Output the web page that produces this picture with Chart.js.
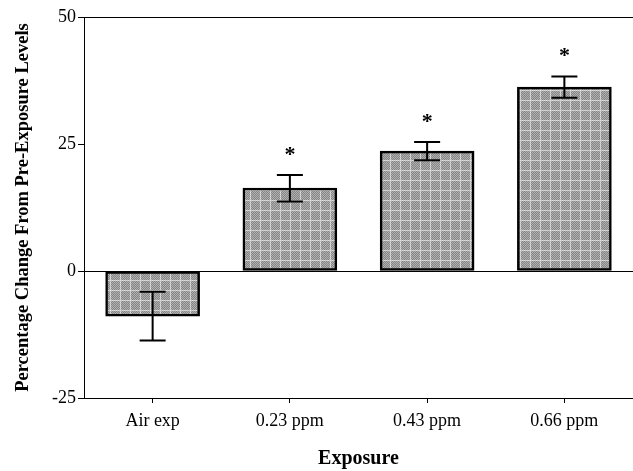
<!DOCTYPE html>
<html lang="en">
<head>
    <meta charset="UTF-8">
    <title>Percentage Change From Pre-Exposure Levels</title>
    <script src="https://cdn.jsdelivr.net/npm/chart.js"></script>
    <style>
        html, body {
            margin: 0;
            padding: 0;
            background: #fff;
        }
        #wrap {
            width: 633px;
            height: 471px;
        }
    </style>
</head>
<body>
    <div id="wrap"><canvas id="exposureChart"></canvas></div>

    <script>
        // data
        const categories = ['Air exp', '0.23 ppm', '0.43 ppm', '0.66 ppm'];
        const meanChange = [-8.9, 16.3, 23.6, 36.2];
        const stdError = [4.8, 2.6, 1.8, 2.1];
        const significant = [false, true, true, true];
        const yTicks = [-25, 0, 25, 50];

        // gray crosshatch fill like the printed bars
        function makePattern() {
            const c = document.createElement('canvas');
            c.width = 10;
            c.height = 10;
            const g = c.getContext('2d');
            for (let x = 0; x < 10; x++) {
                for (let y = 0; y < 10; y++) {
                    let col = (x + y) % 2 ? '#858585' : '#b0b0b0';
                    if (x === 0 || y === 0) col = (x + y) % 2 ? '#c4c4c4' : '#e0e0e0';
                    g.fillStyle = col;
                    g.fillRect(x, y, 1, 1);
                }
            }
            return g.createPattern(c, 'repeat');
        }

        // error bars and asterisks
        const errorBars = {
            id: 'errorBars',
            afterDatasetsDraw(chart) {
                const ctx = chart.ctx;
                const y = chart.scales.y;
                const meta = chart.getDatasetMeta(0);
                ctx.save();
                ctx.strokeStyle = '#000';
                ctx.lineWidth = 2;
                meta.data.forEach((bar, i) => {
                    const hi = y.getPixelForValue(meanChange[i] + stdError[i]);
                    const lo = y.getPixelForValue(meanChange[i] - stdError[i]);
                    const cap = 13;
                    ctx.beginPath();
                    ctx.moveTo(bar.x, hi);
                    ctx.lineTo(bar.x, lo);
                    ctx.moveTo(bar.x - cap, hi);
                    ctx.lineTo(bar.x + cap, hi);
                    ctx.moveTo(bar.x - cap, lo);
                    ctx.lineTo(bar.x + cap, lo);
                    ctx.stroke();
                    if (significant[i]) {
                        ctx.fillStyle = '#000';
                        ctx.font = 'bold 22px "Liberation Serif"';
                        ctx.textAlign = 'center';
                        ctx.textBaseline = 'alphabetic';
                        ctx.fillText('*', bar.x, hi - 26 + 12);
                    }
                });
                ctx.restore();
            }
        };

        const serif = '"Liberation Serif", "DejaVu Serif", serif';

        const ctx = document.getElementById('exposureChart').getContext('2d');
        new Chart(ctx, {
            type: 'bar',
            data: {
                labels: categories,
                datasets: [{
                    data: meanChange,
                    backgroundColor: makePattern(),
                    borderColor: '#000',
                    borderWidth: 2.5,
                    borderSkipped: false,
                    barThickness: 94
                }]
            },
            options: {
                responsive: true,
                maintainAspectRatio: false,
                animation: false,
                layout: { padding: { top: 17, right: 0, left: 0, bottom: 0 } },
                plugins: {
                    legend: { display: false },
                    tooltip: { enabled: false }
                },
                scales: {
                    x: {
                        afterFit(scale) { scale.height = 73; },
                        grid: {
                            offset: false,
                            drawOnChartArea: false,
                            tickLength: 5,
                            tickColor: '#000'
                        },
                        border: { color: '#000', width: 1 },
                        ticks: {
                            color: '#000',
                            padding: 7,
                            font: { family: serif, size: 18 }
                        },
                        title: {
                            display: true,
                            text: 'Exposure',
                            color: '#000',
                            padding: { top: 10, bottom: 0 },
                            font: { family: serif, size: 20, weight: 'bold' }
                        }
                    },
                    y: {
                        min: -25,
                        max: 50,
                        afterFit(scale) { scale.width = 84; },
                        afterBuildTicks(scale) {
                            scale.ticks = yTicks.map(v => ({ value: v }));
                        },
                        grid: {
                            color: c => (c.tick && c.tick.value === 25) ? 'rgba(0,0,0,0)' : '#000',
                            tickColor: '#000',
                            tickLength: 6,
                            lineWidth: 1
                        },
                        border: { color: '#000', width: 1 },
                        ticks: {
                            color: '#000',
                            padding: 2,
                            font: { family: serif, size: 18 }
                        },
                        title: {
                            display: true,
                            text: 'Percentage Change From Pre-Exposure Levels',
                            color: '#000',
                            padding: { top: 12, bottom: 0 },
                            font: { family: serif, size: 18.5, weight: 'bold' }
                        }
                    }
                }
            },
            plugins: [errorBars]
        });
    </script>
</body>
</html>
